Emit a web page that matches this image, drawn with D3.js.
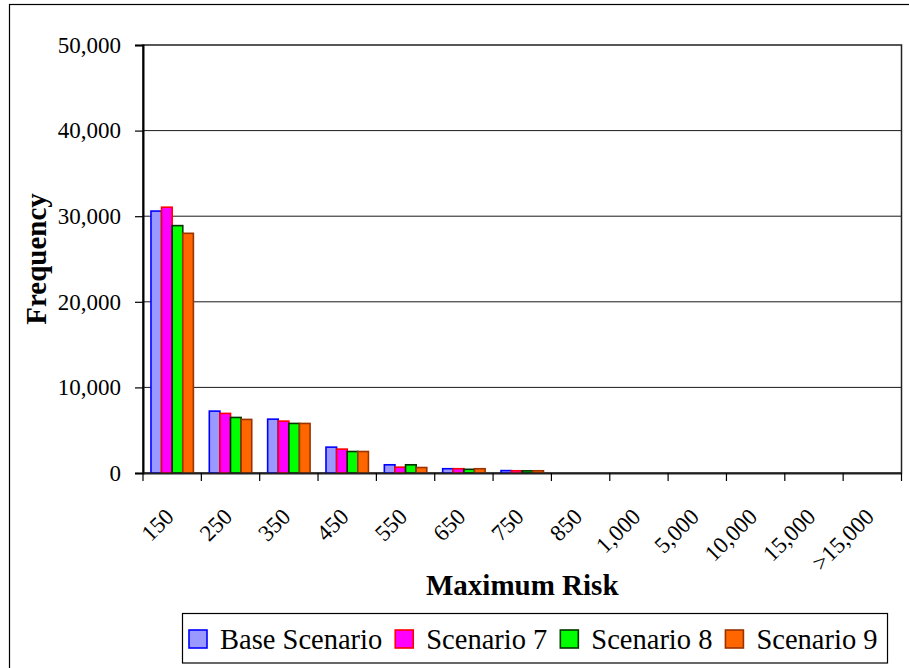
<!DOCTYPE html>
<html>
<head>
<meta charset="utf-8">
<script src="https://cdn.jsdelivr.net/npm/d3@7"></script>
<style>
  html, body { margin: 0; padding: 0; background: #fff; }
  svg { display: block; }
  text { font-family: "Liberation Serif", "Times New Roman", serif; fill: #000; }
</style>
</head>
<body>
<svg id="chart" width="909" height="668"></svg>
<script>
// Frequency of maximum risk per bin, one array per scenario
const categories = ["150", "250", "350", "450", "550", "650", "750", "850", "1,000", "5,000", "10,000", "15,000", ">15,000"];
const baseScenario = [30600, 7230, 6290, 3020, 960, 500, 280, 0, 0, 0, 0, 0, 0];
const scenario7    = [31050, 6960, 6060, 2790, 680, 500, 260, 0, 0, 0, 0, 0, 0];
const scenario8    = [28900, 6490, 5790, 2510, 960, 430, 250, 0, 0, 0, 0, 0, 0];
const scenario9    = [28000, 6260, 5790, 2510, 640, 500, 260, 0, 0, 0, 0, 0, 0];
const seriesNames  = ["Base Scenario", "Scenario 7", "Scenario 8", "Scenario 9"];
const yTicks = [0, 10000, 20000, 30000, 40000, 50000];

const seriesValues = [baseScenario, scenario7, scenario8, scenario9];
const fills   = ["#9999ff", "#ff00ff", "#00ff00", "#ff6600"];
const strokes = ["#0000ff", "#ff0000", "#003300", "#993300"];

const svg = d3.select("#chart");
const plot = { left: 143, right: 901.5, top: 45, bottom: 473 };

// outer chart frame
svg.append("rect")
  .attr("x", 9.5).attr("y", 4.5).attr("width", 1000).attr("height", 1000)
  .attr("fill", "#fff").attr("stroke", "#000").attr("stroke-width", 1.2);

const x = d3.scaleBand().domain(categories).range([plot.left, plot.right]).paddingInner(0).paddingOuter(0);
const barW = x.bandwidth() / 5.5;
const xs = d3.scaleBand().domain(d3.range(4)).range([barW * 0.75, barW * 4.75]);
const y = d3.scaleLinear().domain([0, 50000]).range([plot.bottom, plot.top]);

// horizontal gridlines
svg.append("g").selectAll("line")
  .data(yTicks.filter(t => t > 0 && t < 50000))
  .join("line")
  .attr("x1", plot.left).attr("x2", plot.right)
  .attr("y1", d => y(d)).attr("y2", d => y(d))
  .attr("stroke", "#1a1a1a").attr("stroke-width", 1);

// plot area border
svg.append("rect")
  .attr("x", plot.left).attr("y", plot.top)
  .attr("width", plot.right - plot.left).attr("height", plot.bottom - plot.top)
  .attr("fill", "none").attr("stroke", "#222").attr("stroke-width", 1.5);

// bars
const bars = [];
seriesValues.forEach((vals, s) => {
  vals.forEach((v, i) => bars.push({ s, cat: categories[i], v }));
});
svg.append("g").selectAll("rect")
  .data(bars.filter(d => d.v > 0))
  .join("rect")
  .attr("x", d => x(d.cat) + xs(d.s))
  .attr("y", d => y(d.v))
  .attr("width", xs.bandwidth())
  .attr("height", d => y(0) - y(d.v))
  .attr("fill", d => fills[d.s])
  .attr("stroke", d => strokes[d.s])
  .attr("stroke-width", 1.6);

// y axis
const yAxis = d3.axisLeft(y).tickValues(yTicks).tickFormat(d3.format(",")).tickSize(8).tickPadding(14);
const gy = svg.append("g").attr("transform", `translate(${plot.left},0)`).call(yAxis);
gy.attr("font-family", null);
gy.select(".domain").attr("stroke", "#000").attr("stroke-width", 2);
gy.selectAll(".tick line").attr("stroke", "#000").attr("stroke-width", 1.2);
gy.selectAll(".tick text")
  .style("font-family", "'Liberation Serif', serif").style("font-size", "23px").attr("fill", "#000");

// x axis with rotated labels
const xAxis = d3.axisBottom(x).tickSize(0).tickFormat("");
const gx = svg.append("g").attr("transform", `translate(0,${plot.bottom})`).call(xAxis);
gx.select(".domain").attr("stroke", "#222").attr("stroke-width", 2);
const boundaries = d3.range(categories.length + 1).map(i => plot.left + i * x.step());
gx.selectAll(".sep").data(boundaries).join("line")
  .attr("class", "sep")
  .attr("x1", d => d).attr("x2", d => d).attr("y1", 0).attr("y2", 8)
  .attr("stroke", "#000").attr("stroke-width", 1.2);
svg.append("g").selectAll("text")
  .data(categories)
  .join("text")
  .attr("transform", d => `translate(${x(d) + x.bandwidth() / 2 + 3},518) rotate(-45)`)
  .attr("text-anchor", "end")
  .style("font-size", "23px")
  .text(d => d);

// axis titles
svg.append("text")
  .attr("x", (plot.left + plot.right) / 2).attr("y", 595)
  .attr("text-anchor", "middle")
  .style("font-size", "29px").style("font-weight", "bold")
  .text("Maximum Risk");
svg.append("text")
  .attr("transform", `translate(46,${(plot.top + plot.bottom) / 2}) rotate(-90)`)
  .attr("text-anchor", "middle")
  .style("font-size", "29px").style("font-weight", "bold")
  .text("Frequency");

// legend
const legend = svg.append("g");
const legendBox = legend.append("rect")
  .attr("fill", "#fff").attr("stroke", "#000").attr("stroke-width", 1.2);
let cursor = 189;
seriesNames.forEach((name, s) => {
  legend.append("rect")
    .attr("x", cursor).attr("y", 630).attr("width", 18).attr("height", 18)
    .attr("fill", fills[s]).attr("stroke", strokes[s]).attr("stroke-width", 1.6);
  const t = legend.append("text")
    .attr("x", cursor + 31).attr("y", 649)
    .style("font-size", "28.5px")
    .text(name);
  cursor = cursor + 31 + t.node().getComputedTextLength() + 13;
});
legendBox.attr("x", 182.5).attr("y", 613.5).attr("width", cursor - 3 - 182.5).attr("height", 49.5);
</script>
</body>
</html>
